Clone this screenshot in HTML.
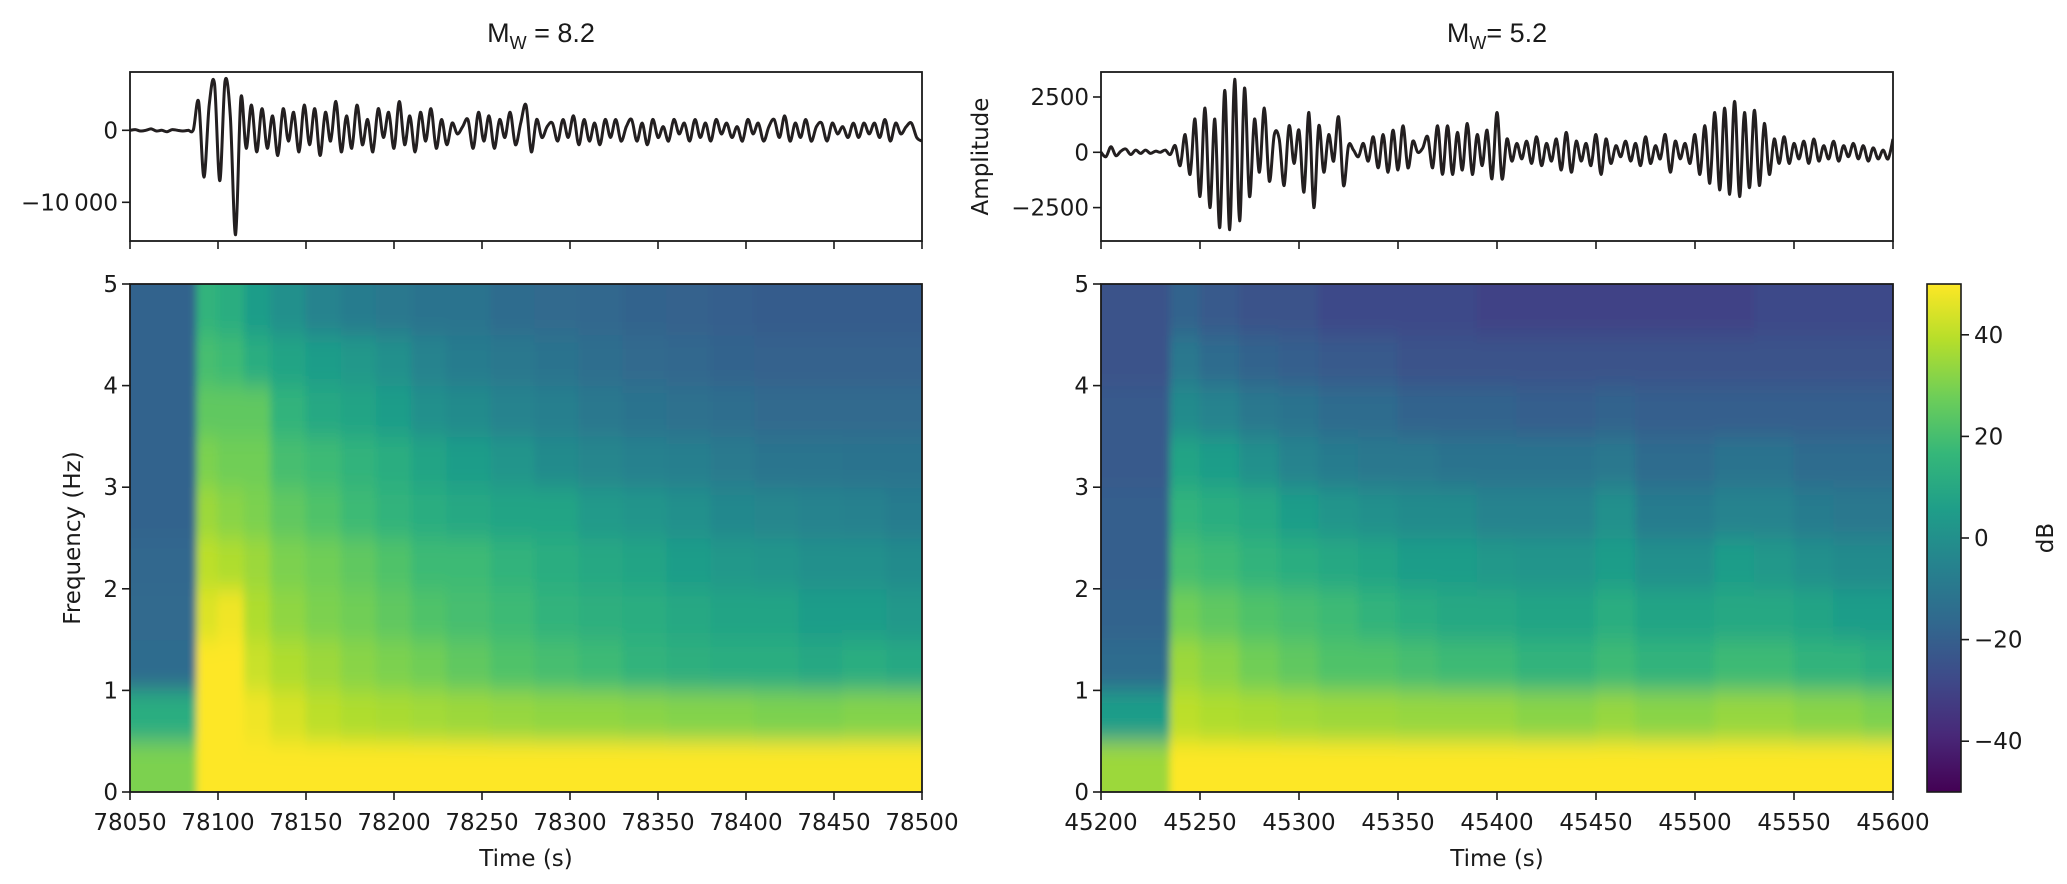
<!DOCTYPE html>
<html><head><meta charset="utf-8">
<style>
html,body{margin:0;padding:0;background:#fff;}
svg{display:block;font-family:"DejaVu Sans","Liberation Sans",sans-serif;}
.tick{font-size:23px;fill:#1a1a1a;}
.lab{font-size:23px;fill:#1a1a1a;}
</style></head>
<body>
<svg id="fig" width="2067" height="884" viewBox="0 0 2067 884" xmlns="http://www.w3.org/2000/svg">
<defs>
<filter id="blurL" x="-5%" y="-5%" width="110%" height="110%"><feGaussianBlur stdDeviation="4 11" edgeMode="duplicate"/></filter>
<filter id="blurR" x="-5%" y="-5%" width="110%" height="110%"><feGaussianBlur stdDeviation="4 11" edgeMode="duplicate"/></filter>
<clipPath id="clipL"><rect x="130" y="284" width="792" height="508"/></clipPath>
<clipPath id="clipR"><rect x="1101" y="284" width="792" height="508"/></clipPath>
<clipPath id="clipTL"><rect x="130" y="72" width="792" height="169"/></clipPath>
<clipPath id="clipTR"><rect x="1101" y="72" width="792" height="169"/></clipPath>
<linearGradient id="cbar" x1="0" y1="1" x2="0" y2="0">
<stop offset="0" stop-color="#440154"/><stop offset="0.111" stop-color="#482878"/><stop offset="0.222" stop-color="#3e4a89"/><stop offset="0.333" stop-color="#31688e"/><stop offset="0.444" stop-color="#26828e"/><stop offset="0.556" stop-color="#1f9e89"/><stop offset="0.667" stop-color="#35b779"/><stop offset="0.778" stop-color="#6ece58"/><stop offset="0.889" stop-color="#b5de2b"/><stop offset="1" stop-color="#fde725"/>
</linearGradient>
</defs>
<text x="541" y="42" text-anchor="middle" font-family="Liberation Sans, sans-serif" font-size="27" fill="#1a1a1a">M<tspan font-size="18" dy="7">W</tspan><tspan dy="-7"> = 8.2</tspan></text>
<text x="1497" y="42" text-anchor="middle" font-family="Liberation Sans, sans-serif" font-size="27" fill="#1a1a1a">M<tspan font-size="18" dy="7">W</tspan><tspan dy="-7">= 5.2</tspan></text>
<g id="layer"></g>
</svg>
<script>
// ---------- data ----------
const leftWaveStart = 78050;
const leftWaveStep = 3;
const leftWave = [0,100,-100,0,200,-100,0,-200,100,0,-100,0,100,
4000,-6500,3500,6500,-7000,6800,2000,-14500,4500,-2500,3500,-3000,3000,-2500,2000,-3500,3000,-1500,2500,-3000,3500,-2000,3000,-3500,2500,-1500,4000,-3000,2000,-2500,3500,-2000,1500,-3000,3000,-1000,2500,-2500,4000,-2000,2000,-3000,2500,-1500,3000,-2500,1500,-2000,1000,-500,500,1500,-2500,2500,-1500,2000,-2500,1500,-1000,2500,-2000,1000,3500,-3000,1500,-1000,500,1000,-1500,1500,-1000,2000,-2000,1500,-1500,1000,-2000,1500,-1000,1500,-1500,500,1500,-1500,1000,-2000,1500,-1000,500,-1500,1500,-500,1000,-1500,1500,-1000,1000,-1500,1500,-500,1000,-1000,500,-1500,1500,-500,1000,-1500,500,1500,-1000,2000,-1500,1000,-1000,1500,-1500,500,1000,-1500,1000,-500,500,-1000,1000,-1000,1000,-500,1000,-1000,1500,-1500,1000,-500,500,1000,-1000,-1500];
const rightWaveStart = 45200;
const rightWaveStep = 2.5;
const rightWave = [0,-200,250,-150,50,150,-100,100,-50,100,-50,50,0,100,-100,
300,-600,800,-1000,1500,-2000,2000,-2500,1500,-3400,2800,-3500,3300,-3100,2900,-2000,1500,-900,2000,-1300,800,600,-1500,1200,-500,1000,-1800,1800,-2500,1200,-900,800,-400,1600,-1500,300,100,-200,400,-400,700,-700,800,-900,1000,-800,1200,-700,500,0,200,700,-700,1200,-1000,1200,-1000,900,-800,1300,-1000,800,-600,1000,-1200,1800,-1200,600,-400,400,-300,500,-500,700,-600,400,-400,600,-800,900,-900,500,-400,400,-600,800,-1000,600,-500,300,-200,500,-400,400,-600,700,-500,300,-300,800,-900,500,-300,400,-500,800,-1000,1200,-1400,1800,-1700,2000,-1900,2300,-2000,1800,-1600,1900,-1500,1300,-1000,600,-500,700,-500,400,-300,500,-500,600,-400,300,-300,500,-400,300,-200,400,-300,300,-400,200,-300,100,-300,600];

const leftTimeBins = [78050,78088,78100,78115,78130,78150,78170,78190,78210,78230,78255,78280,78305,78330,78355,78380,78405,78430,78455,78480];
const leftTimeEnd = 78500;
const rightTimeBins = [45200,45235,45250,45270,45290,45310,45330,45350,45370,45390,45410,45430,45450,45470,45490,45510,45530,45550,45570,45585];
const rightTimeEnd = 45600;
const freqBins = [0,0.5,1,1.5,2,2.5,3,3.5,4,4.5];
// dB per time bin, listed from lowest to highest frequency bin
const leftDb = [
[30,12,-15,-16,-17,-18,-18,-18,-18,-18],
[50,50,50,45,40,35,30,25,20,15],
[50,50,50,48,38,32,28,25,18,12],
[50,48,42,38,35,30,28,25,12,5],
[50,44,38,33,30,25,20,15,8,0],
[50,40,35,30,28,22,18,10,5,-5],
[50,38,32,28,25,18,15,8,3,-8],
[50,37,30,25,22,15,12,5,0,-10],
[50,36,28,22,18,12,8,0,-5,-12],
[50,35,25,20,18,10,5,-2,-8,-12],
[50,34,22,18,15,8,2,-5,-10,-15],
[50,33,20,15,12,8,-2,-7,-12,-16],
[50,33,18,13,10,4,-4,-10,-14,-17],
[50,32,15,12,8,2,-6,-12,-16,-18],
[50,31,13,10,5,0,-7,-13,-17,-19],
[50,31,12,8,3,-3,-9,-14,-18,-20],
[50,30,12,8,2,-4,-11,-16,-19,-21],
[50,30,10,5,0,-5,-11,-16,-19,-21],
[50,31,12,5,0,-6,-12,-16,-19,-21],
[50,31,10,3,-2,-8,-12,-16,-19,-21]];
const rightDb = [
[35,5,-15,-18,-20,-20,-22,-22,-25,-25],
[50,40,35,28,20,15,8,-2,-10,-18],
[50,38,32,25,18,12,5,-5,-15,-22],
[50,37,28,22,15,10,0,-10,-18,-25],
[50,36,25,20,12,5,-5,-12,-20,-25],
[50,35,22,18,10,2,-8,-15,-22,-28],
[50,35,22,15,8,0,-10,-15,-22,-28],
[50,34,20,12,5,-2,-10,-18,-25,-28],
[50,34,18,10,5,-2,-12,-18,-25,-28],
[50,34,18,10,3,-5,-12,-18,-25,-30],
[50,32,15,8,2,-5,-12,-20,-25,-30],
[50,32,15,8,2,-5,-12,-20,-25,-30],
[50,34,18,12,5,0,-10,-18,-25,-30],
[50,32,15,8,0,-8,-15,-20,-25,-30],
[50,32,15,8,0,-8,-15,-20,-25,-30],
[50,34,18,10,5,-5,-12,-20,-25,-30],
[50,34,18,10,3,-5,-12,-20,-25,-28],
[50,32,15,8,0,-8,-15,-20,-25,-28],
[50,32,15,5,-2,-10,-15,-20,-25,-28],
[50,30,12,5,-2,-10,-15,-20,-25,-28]];

const leftTimeTicks = [78050,78100,78150,78200,78250,78300,78350,78400,78450,78500];
const rightTimeTicks = [45200,45250,45300,45350,45400,45450,45500,45550,45600];
const freqTicks = [0,1,2,3,4,5];
const leftAmpTicks = [0,-10000];
const leftAmpLabels = ["0","\u221210\u2009000"];
const rightAmpTicks = [2500,0,-2500];
const rightAmpLabels = ["2500","0","\u22122500"];
const cbarTicks = [-40,-20,0,20,40];
const cbarLabels = ["\u221240","\u221220","0","20","40"];

// ---------- helpers ----------
const NS = "http://www.w3.org/2000/svg";
const layer = document.getElementById('layer');
function mk(tag, attrs, parent){
  const e = document.createElementNS(NS, tag);
  for (const k in attrs) e.setAttribute(k, attrs[k]);
  (parent||layer).appendChild(e);
  return e;
}
function lin(d0,d1,r0,r1){ return v => r0 + (v-d0)/(d1-d0)*(r1-r0); }
const vir = ["#440154","#482878","#3e4a89","#31688e","#26828e","#1f9e89","#35b779","#6ece58","#b5de2b","#fde725"];
function hex(h){ return [parseInt(h.substr(1,2),16),parseInt(h.substr(3,2),16),parseInt(h.substr(5,2),16)]; }
function viridis(db){
  let t = (db+50)/100; t = Math.max(0,Math.min(1,t));
  const p = t*(vir.length-1); const i = Math.min(vir.length-2, Math.floor(p)); const f = p-i;
  const a = hex(vir[i]), b = hex(vir[i+1]);
  return "rgb("+a.map((v,k)=>Math.round(v+(b[k]-v)*f)).join(",")+")";
}

const L = {x0:130, x1:922}, R = {x0:1101, x1:1893};
const TOP = {y0:72, y1:241}, SPEC = {y0:284, y1:792};
const xL = lin(78050,78500,L.x0,L.x1);
const xR = lin(45200,45600,R.x0,R.x1);
const yF = lin(0,5,SPEC.y1,SPEC.y0);
const yAL = lin(8100,-15375,TOP.y0,TOP.y1);
const yAR = lin(3630,-4010,TOP.y0,TOP.y1);
const yC = lin(-50,50,SPEC.y1,SPEC.y0);

// ---------- spectrograms ----------
function spectrogram(bins, endT, db, xs, clip, filt, name){
  const g = mk('g',{'clip-path':'url(#'+clip+')'});
  
  
  const inner = mk('g',{filter:'url(#'+filt+')'}, g);
  bins.forEach((t,i)=>{
    const t1 = i<bins.length-1 ? bins[i+1] : endT;
    freqBins.forEach((f,j)=>{
      const f1 = f+0.5;
      const x = xs(t), w = xs(t1)-x;
      const y = yF(f1), h = yF(f)-y;
      const r = mk('rect',{x:(i==0?x-20:x)-0.5, y:(j==freqBins.length-1?y-30:y)-0.5, width:w+1+(i==0?20:0)+(i==bins.length-1?20:0), height:h+1+(j==0?30:0)+(j==freqBins.length-1?30:0), fill:viridis(db[i][j])}, inner);
      
      
    });
  });
}
spectrogram(leftTimeBins, leftTimeEnd, leftDb, xL, 'clipL', 'blurL', 'left-spectrogram');
spectrogram(rightTimeBins, rightTimeEnd, rightDb, xR, 'clipR', 'blurR', 'right-spectrogram');

// ---------- waveforms ----------
function smoothPath(pts){
  let d = "M"+pts[0][0].toFixed(1)+","+pts[0][1].toFixed(1);
  for (let i=0;i<pts.length-1;i++){
    const p0 = pts[Math.max(0,i-1)], p1 = pts[i], p2 = pts[i+1], p3 = pts[Math.min(pts.length-1,i+2)];
    const c1x = p1[0]+(p2[0]-p0[0])/6, c1y = p1[1]+(p2[1]-p0[1])/6;
    const c2x = p2[0]-(p3[0]-p1[0])/6, c2y = p2[1]-(p3[1]-p1[1])/6;
    d += "C"+c1x.toFixed(1)+","+c1y.toFixed(1)+" "+c2x.toFixed(1)+","+c2y.toFixed(1)+" "+p2[0].toFixed(1)+","+p2[1].toFixed(1);
  }
  return d;
}
function wave(vals, t0, dt, xs, ys, clip, name){
  const pts = vals.map((v,i)=>[xs(t0+i*dt), ys(v)]);
  const p = mk('path',{d:smoothPath(pts), fill:'none', stroke:'#231f20', 'stroke-width':3, 'stroke-linejoin':'round', 'clip-path':'url(#'+clip+')'});
  
  
}
wave(leftWave, leftWaveStart, leftWaveStep, xL, yAL, 'clipTL', 'left-waveform-line');
wave(rightWave, rightWaveStart, rightWaveStep, xR, yAR, 'clipTR', 'right-waveform-line');

// ---------- axes frames ----------
function frame(x0,y0,x1,y1,name){
  const r = mk('rect',{x:x0,y:y0,width:x1-x0,height:y1-y0,fill:'none',stroke:'#1a1a1a','stroke-width':1.8});
  
  
}
frame(L.x0,TOP.y0,L.x1,TOP.y1,'left-waveform-axes');
frame(R.x0,TOP.y0,R.x1,TOP.y1,'right-waveform-axes');
frame(L.x0,SPEC.y0,L.x1,SPEC.y1,'left-spectrogram-axes');
frame(R.x0,SPEC.y0,R.x1,SPEC.y1,'right-spectrogram-axes');

// ---------- ticks ----------
function xTicks(ticks, xs, yBase, withLabels, name){
  ticks.forEach(t=>{
    const x = xs(t);
    const l = mk('line',{x1:x,x2:x,y1:yBase,y2:yBase+8,stroke:'#1a1a1a','stroke-width':1.6});
    
    
    if (withLabels){
      const tx = mk('text',{x:x,y:yBase+38,'text-anchor':'middle','class':'tick'});
      tx.textContent = t;
      
      
    }
  });
}
xTicks(leftTimeTicks, xL, TOP.y1, false, 'left-waveform-x');
xTicks(rightTimeTicks, xR, TOP.y1, false, 'right-waveform-x');
xTicks(leftTimeTicks, xL, SPEC.y1, true, 'left-time-axis');
xTicks(rightTimeTicks, xR, SPEC.y1, true, 'right-time-axis');

function yTicks(ticks, labels, ys, xBase, name){
  ticks.forEach((t,i)=>{
    const y = ys(t);
    const l = mk('line',{x1:xBase-8,x2:xBase,y1:y,y2:y,stroke:'#1a1a1a','stroke-width':1.6});
    
    
    const tx = mk('text',{x:xBase-12,y:y+8,'text-anchor':'end','class':'tick'});
    tx.textContent = labels[i];
    
    
  });
}
yTicks(leftAmpTicks, leftAmpLabels, yAL, L.x0, 'left-amplitude');
yTicks(rightAmpTicks, rightAmpLabels, yAR, R.x0, 'right-amplitude');
yTicks(freqTicks, freqTicks.map(String), yF, L.x0, 'left-frequency');
yTicks(freqTicks, freqTicks.map(String), yF, R.x0, 'right-frequency');

// ---------- colorbar ----------
const cb = mk('rect',{x:1927,y:SPEC.y0,width:34,height:SPEC.y1-SPEC.y0,fill:'url(#cbar)',stroke:'#1a1a1a','stroke-width':1.6});


cbarTicks.forEach((t,i)=>{
  const y = yC(t);
  const l = mk('line',{x1:1961,x2:1969,y1:y,y2:y,stroke:'#1a1a1a','stroke-width':1.6});
  
  
  const tx = mk('text',{x:1974,y:y+8,'class':'tick'});
  tx.textContent = cbarLabels[i];
  
  
});

// ---------- axis titles ----------
function label(txt,x,y,rot,name){
  const t = mk('text',{x:x,y:y,'text-anchor':'middle','class':'lab',transform:rot?('rotate(-90 '+x+' '+y+')'):''});
  t.textContent = txt;
  
  
}
label('Time (s)', (L.x0+L.x1)/2, 866, false, 'left-x-axis-title');
label('Time (s)', (R.x0+R.x1)/2, 866, false, 'right-x-axis-title');
label('Frequency (Hz)', 80, (SPEC.y0+SPEC.y1)/2, true, 'y-axis-title-frequency');
label('Amplitude', 988, (TOP.y0+TOP.y1)/2, true, 'y-axis-title-amplitude');
label('dB', 2053, (SPEC.y0+SPEC.y1)/2, true, 'colorbar-title');
</script>
</body></html>
